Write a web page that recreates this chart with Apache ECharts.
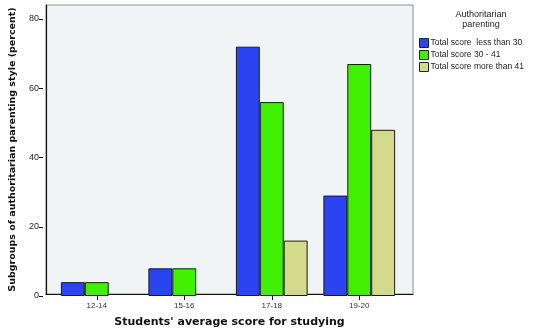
<!DOCTYPE html>
<html><head><meta charset="utf-8">
<script src="https://cdn.jsdelivr.net/npm/echarts@6/dist/echarts.min.js"></script>
<style>html,body{margin:0;padding:0;background:#fff}#c{width:537px;height:333px}</style>
</head><body><div id="c"></div>
<script>
const categories = ['12-14', '15-16', '17-18', '19-20'];
const seriesNames = ['Total score  less than 30', 'Total score 30 - 41', 'Total score more than 41'];
const lessThan30 = [4, 8, 72, 29];
const from30to41 = [4, 8, 56, 67];
const moreThan41 = [null, null, 16, 48];
const yTicks = [0, 20, 40, 60, 80];
const colors = ['#2b44f2', '#40f000', '#d3da8b'];

const chart = echarts.init(document.getElementById('c'), null, {renderer: 'canvas'});
const data = [lessThan30, from30to41, moreThan41];
chart.setOption({
  animation: false,
  backgroundColor: '#ffffff',
  title: {
    text: 'Authoritarian\nparenting', left: 476, top: 5, textAlign: 'center',
    textStyle: {fontSize: 9, fontWeight: 'normal', color: '#222', fontFamily: 'Liberation Sans', lineHeight: 10}
  },
  legend: {
    orient: 'vertical', left: 414, top: 33, itemWidth: 9, itemHeight: 9, itemGap: 2, icon: 'rect',
    data: seriesNames,
    textStyle: {fontSize: 8.5, color: '#222', fontFamily: 'Liberation Sans', padding: [0, 0, 0, -3]},
    itemStyle: {borderColor: '#222', borderWidth: 1}
  },
  grid: [
    {left: 43, right: 124, top: 5, bottom: 37, show: true, backgroundColor: '#f1f4f4', borderColor: '#8a8e8e', borderWidth: 1},
    {left: 53, right: 134, top: 19, bottom: 37}
  ],
  xAxis: [
    {gridIndex: 0, type: 'value', min: 0, max: 1, axisLine: {show: true, onZero: false, lineStyle: {color: '#111', width: 1.2}},
     axisTick: {show: false}, axisLabel: {show: false}, splitLine: {show: false},
     name: "Students' average score for studying", nameLocation: 'middle', nameGap: 23,
     nameTextStyle: {fontSize: 11, fontWeight: 'bold', color: '#111', fontFamily: 'DejaVu Sans'}},
    {gridIndex: 1, type: 'category', data: categories, axisLine: {show: false},
     axisTick: {show: true, alignWithLabel: true, length: 4, lineStyle: {color: '#111'}},
     axisLabel: {fontSize: 8, color: '#333', margin: 6, fontFamily: 'Liberation Sans'}}
  ],
  yAxis: [
    {gridIndex: 0, type: 'value', min: 0, max: 1, axisLine: {show: true, lineStyle: {color: '#111', width: 1.2}},
     axisTick: {show: false}, axisLabel: {show: false}, splitLine: {show: false},
     name: 'Subgroups of authoritarian parenting style (percent)', nameLocation: 'middle', nameGap: 28,
     nameTextStyle: {fontSize: 9.5, fontWeight: 'bold', color: '#111', fontFamily: 'DejaVu Sans'}},
    {gridIndex: 1, type: 'value', min: 0, max: 80, interval: 20, offset: 10,
     axisLine: {show: false}, axisTick: {show: true, length: 4, lineStyle: {color: '#111'}},
     axisLabel: {fontSize: 9, color: '#222', margin: 4, fontFamily: 'Liberation Sans',
       formatter: v => yTicks.includes(v) ? String(v) : ''},
     splitLine: {show: false}}
  ],
  series: data.map((d, i) => ({
    name: seriesNames[i], type: 'bar', xAxisIndex: 1, yAxisIndex: 1, data: d,
    barGap: '0%', barCategoryGap: '18%',
    itemStyle: {color: colors[i], borderColor: '#1a1a1a', borderWidth: 1}
  }))
});
</script></body></html>
